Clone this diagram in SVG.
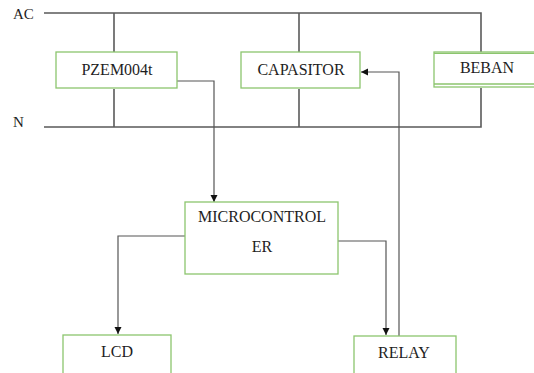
<svg xmlns="http://www.w3.org/2000/svg" width="534" height="373" viewBox="0 0 534 373">
<style>
.box{fill:#fff;stroke:#8cc56e;stroke-width:1.3}
.w{fill:none;stroke:#5a5a5a;stroke-width:1.6}
.c{fill:none;stroke:#555;stroke-width:1.2}
.t{font-family:"Liberation Serif","Times New Roman","DejaVu Serif",serif;font-size:16px;fill:#1e1e1e;text-anchor:middle}
.l{font-family:"Liberation Serif","Times New Roman","DejaVu Serif",serif;font-size:15px;fill:#1e1e1e}
</style>
<defs>
<marker id="a" markerWidth="8" markerHeight="8" refX="7" refY="4" orient="auto" markerUnits="userSpaceOnUse"><path d="M0,0.5 L7,4 L0,7.5 Z" fill="#111"/></marker>
</defs>
<rect width="534" height="373" fill="#fff"/>
<g id="connectors">
<path class="w" d="M44,13 H481 V52 M481,88 V127 H44"/>
<path class="w" d="M114,13 V52 M114,89 V127"/>
<path class="w" d="M299,13 V52 M299,89 V127"/>
<path class="c" d="M177,81 H214 V202" marker-end="url(#a)"/>
<path class="c" d="M399,336 V72 H361" marker-end="url(#a)"/>
<path class="c" d="M185,236 H118 V334" marker-end="url(#a)"/>
<path class="c" d="M338,241 H386 V335" marker-end="url(#a)"/>
</g>
<text class="l" x="13" y="19">AC</text>
<text class="l" x="13" y="127">N</text>
<g id="pzem"><rect class="box" x="56" y="52" width="121" height="36"/><text class="t" x="117" y="75">PZEM004t</text></g>
<g id="capasitor"><rect class="box" x="241" y="52" width="119" height="36"/><text class="t" x="301" y="75">CAPASITOR</text></g>
<g id="beban"><rect class="box" x="434" y="52" width="110" height="35"/><line class="box" x1="434" y1="84" x2="544" y2="84"/><line class="box" x1="434" y1="53.3" x2="544" y2="53.3"/><text class="t" x="487" y="73">BEBAN</text></g>
<g id="microcontroller"><rect class="box" x="185" y="202" width="153" height="72"/><text class="t" x="262" y="222">MICROCONTROL</text><text class="t" x="262" y="252">ER</text></g>
<g id="lcd"><rect class="box" x="63" y="335" width="108" height="45"/><text class="t" x="117" y="357">LCD</text></g>
<g id="relay"><rect class="box" x="354" y="336" width="102" height="45"/><text class="t" x="404" y="358">RELAY</text></g>
</svg>
